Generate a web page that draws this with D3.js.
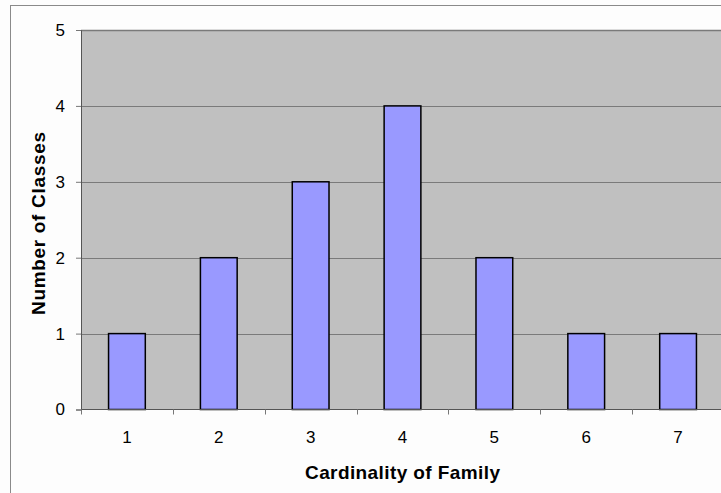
<!DOCTYPE html>
<html>
<head>
<meta charset="utf-8">
<script src="https://cdn.jsdelivr.net/npm/d3@7"></script>
<style>
  html, body { margin: 0; padding: 0; background: #fdfdfd; }
  svg { display: block; }
  text { font-family: "Liberation Sans", Arial, sans-serif; fill: #000; }
</style>
</head>
<body>
<svg id="chart" width="721" height="493"></svg>
<script>
// Number of classes per family cardinality
const categories = ["1", "2", "3", "4", "5", "6", "7"];
const classCounts = [1, 2, 3, 4, 2, 1, 1];
const yTicks = [0, 1, 2, 3, 4, 5];

const svg = d3.select("#chart");
const W = 721, H = 493;
const plot = { left: 81, top: 30, right: 724, bottom: 409.5 };

// outer chart frame
svg.append("rect")
  .attr("x", 10.5).attr("y", 5.5)
  .attr("width", W + 20).attr("height", H + 20)
  .attr("fill", "#fdfdfd").attr("stroke", "#8a8a8a").attr("stroke-width", 1);

const x = d3.scaleBand().domain(categories).range([plot.left, plot.right]).padding(0);
const y = d3.scaleLinear().domain([0, 5]).range([plot.bottom, plot.top]);

// plot area background
svg.append("rect")
  .attr("x", plot.left).attr("y", plot.top)
  .attr("width", plot.right - plot.left).attr("height", plot.bottom - plot.top)
  .attr("fill", "#c0c0c0");

// horizontal gridlines
svg.append("g")
  .selectAll("line")
  .data(yTicks.filter(d => d > 0))
  .join("line")
  .attr("x1", plot.left).attr("x2", plot.right)
  .attr("y1", d => Math.round(y(d)) + 0.5).attr("y2", d => Math.round(y(d)) + 0.5)
  .attr("stroke", "#7a7a7a").attr("stroke-width", d => d === 5 ? 1.6 : 1);

// bars
const barFrac = 0.4;
svg.append("g")
  .selectAll("rect")
  .data(classCounts)
  .join("rect")
  .attr("x", (d, i) => x(categories[i]) + x.bandwidth() * (1 - barFrac) / 2)
  .attr("y", d => y(d))
  .attr("width", x.bandwidth() * barFrac)
  .attr("height", d => y(0) - y(d))
  .attr("fill", "#9999ff")
  .attr("stroke", "#000").attr("stroke-width", 1.5);

// y axis
const yAxis = d3.axisLeft(y).tickValues(yTicks).tickSize(5).tickPadding(11).tickFormat(d3.format("d"));
const gy = svg.append("g").attr("transform", `translate(${plot.left},0)`).call(yAxis);
gy.select(".domain").attr("stroke", "#555");
gy.selectAll(".tick line").attr("stroke", "#777");
gy.selectAll(".tick text").style("font-size", "17px").attr("fill", "#000");

// x axis: ticks sit on category boundaries, labels centred on categories
const gx = svg.append("g").attr("transform", `translate(0,${plot.bottom})`);
gx.append("line")
  .attr("x1", plot.left).attr("x2", plot.right).attr("y1", 0).attr("y2", 0)
  .attr("stroke", "#555");
gx.selectAll("line.tick")
  .data(categories)
  .join("line")
  .attr("class", "tick")
  .attr("x1", d => Math.round(x(d)) + 0.5).attr("x2", d => Math.round(x(d)) + 0.5)
  .attr("y1", 0).attr("y2", 5)
  .attr("stroke", "#777");
gx.selectAll("text")
  .data(categories)
  .join("text")
  .attr("x", d => x(d) + x.bandwidth() / 2)
  .attr("y", 33.5)
  .attr("text-anchor", "middle")
  .style("font-size", "17px")
  .text(d => d);

// axis titles
svg.append("text")
  .attr("x", 402.5).attr("y", 478.5)
  .attr("text-anchor", "middle")
  .attr("textLength", 195).attr("lengthAdjust", "spacing")
  .style("font-size", "19px").style("font-weight", "bold")
  .text("Cardinality of Family");

svg.append("text")
  .attr("transform", "translate(45,223.5) rotate(-90)")
  .attr("text-anchor", "middle")
  .attr("textLength", 183).attr("lengthAdjust", "spacing")
  .style("font-size", "19px").style("font-weight", "bold")
  .text("Number of Classes");
</script>
</body>
</html>
